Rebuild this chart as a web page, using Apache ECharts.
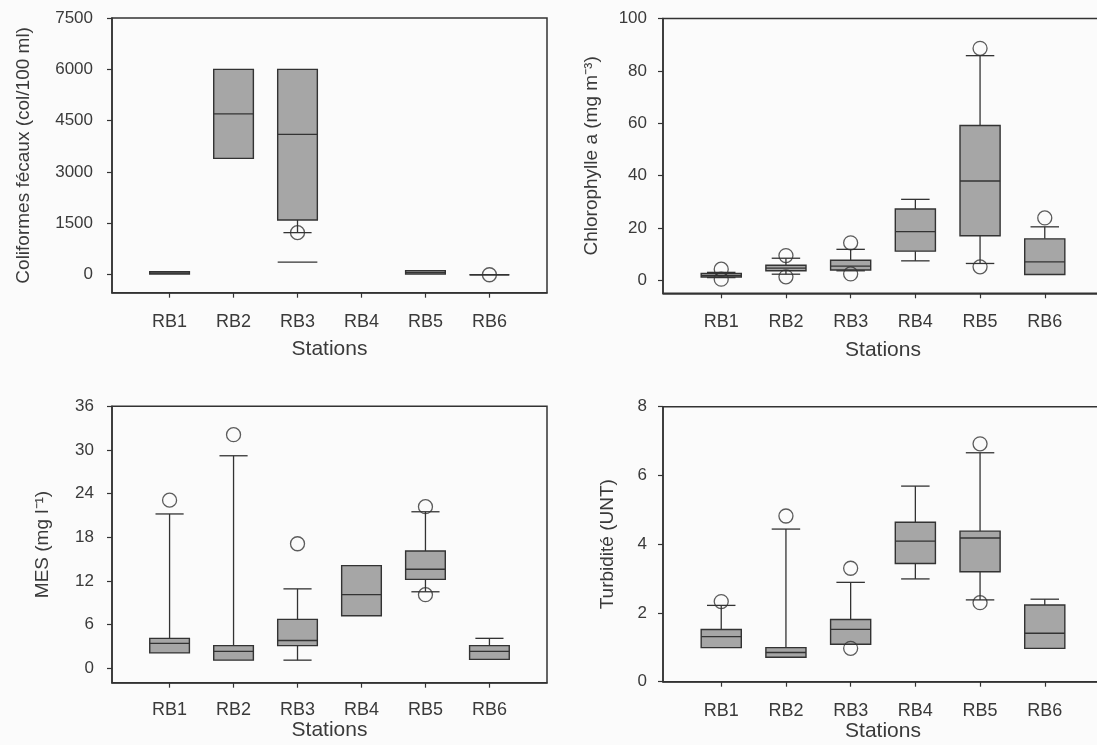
<!DOCTYPE html>
<html><head><meta charset="utf-8">
<script src="https://cdn.jsdelivr.net/npm/echarts@6/dist/echarts.min.js"></script>
<style>html,body{margin:0;padding:0;background:#fbfbfb}#c{width:1097px;height:745px}</style>
</head><body><div id="c"></div>
<script>
// ---------- data ----------
const stations = ['RB1', 'RB2', 'RB3', 'RB4', 'RB5', 'RB6'];

// Coliformes fécaux (col/100 ml)
const fcTicks = [0, 1500, 3000, 4500, 6000, 7500];
const fcLow  = [20, 3400, 1230, null, 20, 0];
const fcQ1   = [20, 3400, 1600, null, 20, 0];
const fcMed  = [50, 4700, 4100, null, 70, 0];
const fcQ3   = [90, 6000, 6000, null, 120, 0];
const fcHigh = [90, 6000, 6000, null, 120, 0];
const fcOutliers = [[3, 1230], [6, 0]];
const fcExtraLines = [[3, 370]];

// Chlorophylle a (mg m-3)
const chlTicks = [0, 20, 40, 60, 80, 100];
const chlLow  = [1.0, 2.3, 3.6, 7.4, 6.4, 2.2];
const chlQ1   = [1.2, 3.6, 3.9, 11.1, 17.0, 2.2];
const chlMed  = [1.8, 4.6, 5.4, 18.6, 37.9, 7.0];
const chlQ3   = [2.6, 5.7, 7.6, 27.2, 59.1, 15.8];
const chlHigh = [3.0, 8.4, 11.8, 30.9, 85.8, 20.4];
const chlOutliers = [[1, 4.2], [1, 0.4], [2, 9.4], [2, 1.3], [3, 14.3], [3, 2.4], [5, 88.6], [5, 5.1], [6, 23.8]];

// MES (mg l-1)
const mesTicks = [0, 6, 12, 18, 24, 30, 36];
const mesLow  = [2.1, 1.1, 1.1, 7.2, 10.5, 1.2];
const mesQ1   = [2.1, 1.1, 3.1, 7.2, 12.2, 1.2];
const mesMed  = [3.4, 2.3, 3.8, 10.1, 13.6, 2.3];
const mesQ3   = [4.1, 3.1, 6.7, 14.1, 16.1, 3.1];
const mesHigh = [21.2, 29.2, 10.9, 14.1, 21.5, 4.1];
const mesOutliers = [[1, 23.1], [2, 32.1], [3, 17.1], [5, 22.2], [5, 10.1]];

// Turbidité (UNT)
const turTicks = [0, 2, 4, 6, 8];
const turLow  = [0.99, 0.71, 1.09, 2.99, 2.38, 0.97];
const turQ1   = [0.99, 0.71, 1.09, 3.44, 3.20, 0.97];
const turMed  = [1.31, 0.85, 1.52, 4.09, 4.18, 1.41];
const turQ3   = [1.52, 0.99, 1.81, 4.64, 4.38, 2.23];
const turHigh = [2.22, 4.44, 2.89, 5.69, 6.66, 2.40];
const turOutliers = [[1, 2.33], [2, 4.82], [3, 3.30], [3, 0.97], [5, 6.92], [5, 2.30]];

// ---------- styling ----------
const FONT = "'Liberation Sans', Arial, Helvetica, sans-serif";
const TXT = '#3a3a3a';
const LINE = '#333333';
const FILL = '#a6a6a6';
const BOX_W = 0.62, CAP_W = 0.44;
const xPos = [1, 2, 3, 4, 5, 6];

function boxRows(lo, q1, md, q3, hi) {
  const rows = [];
  stations.forEach((s, i) => {
    if (q1[i] == null) return;
    rows.push([i + 1, lo[i], q1[i], md[i], q3[i], hi[i]]);
  });
  return rows;
}

function renderBox(params, api) {
  const x = api.value(0);
  const lo = api.value(1), q1 = api.value(2), md = api.value(3), q3 = api.value(4), hi = api.value(5);
  const bw = api.size([BOX_W, 0])[0];
  const cw = api.size([CAP_W, 0])[0];
  const cx = api.coord([x, md])[0];
  const y = v => api.coord([x, v])[1];
  const ws = { stroke: LINE, lineWidth: 1.3, fill: null };
  const ch = [];
  if (hi > q3) {
    ch.push({ type: 'line', shape: { x1: cx, y1: y(q3), x2: cx, y2: y(hi) }, style: ws });
    ch.push({ type: 'line', shape: { x1: cx - cw / 2, y1: y(hi), x2: cx + cw / 2, y2: y(hi) }, style: ws });
  }
  if (lo < q1) {
    ch.push({ type: 'line', shape: { x1: cx, y1: y(q1), x2: cx, y2: y(lo) }, style: ws });
    ch.push({ type: 'line', shape: { x1: cx - cw / 2, y1: y(lo), x2: cx + cw / 2, y2: y(lo) }, style: ws });
  }
  ch.push({ type: 'rect', shape: { x: cx - bw / 2, y: y(q3), width: bw, height: y(q1) - y(q3) },
            style: { fill: FILL, stroke: LINE, lineWidth: 1.4 } });
  ch.push({ type: 'line', shape: { x1: cx - bw / 2, y1: y(md), x2: cx + bw / 2, y2: y(md) },
            style: { stroke: LINE, lineWidth: 1.3 } });
  return { type: 'group', children: ch };
}

function renderFlat(params, api) {
  const x = api.value(0), v = api.value(1);
  const bw = api.size([BOX_W, 0])[0];
  const p = api.coord([x, v]);
  return { type: 'line', shape: { x1: p[0] - bw / 2, y1: p[1], x2: p[0] + bw / 2, y2: p[1] },
           style: { stroke: LINE, lineWidth: 1.3 } };
}

const panels = [
  { grid: { left: 112, top: 18, width: 435, height: 274.7 }, min: -525, max: 7500, ticks: fcTicks,
    name: 'Coliformes fécaux (col/100 ml)', nameGap: 79, yMargin: 19, xMargin: 20, xNameGap: 46,
    rows: boxRows(fcLow, fcQ1, fcMed, fcQ3, fcHigh), out: fcOutliers, extra: fcExtraLines },
  { grid: { left: 663, top: 18.5, width: 440, height: 274.8 }, min: -5, max: 100, ticks: chlTicks,
    name: 'Chlorophylle a (mg m⁻³)', nameGap: 62, yMargin: 16, xMargin: 20, xNameGap: 46,
    rows: boxRows(chlLow, chlQ1, chlMed, chlQ3, chlHigh), out: chlOutliers },
  { grid: { left: 112, top: 406.3, width: 435, height: 276.4 }, min: -2, max: 36, ticks: mesTicks,
    name: 'MES (mg l⁻¹)', nameGap: 60, yMargin: 18, xMargin: 18, xNameGap: 32,
    rows: boxRows(mesLow, mesQ1, mesMed, mesQ3, mesHigh), out: mesOutliers },
  { grid: { left: 663, top: 406.7, width: 440, height: 275 }, min: 0, max: 8, ticks: turTicks,
    name: 'Turbidité (UNT)', nameGap: 46, yMargin: 16, xMargin: 20, xNameGap: 32,
    rows: boxRows(turLow, turQ1, turMed, turQ3, turHigh), out: turOutliers }
];

const grids = [], xAxes = [], yAxes = [], series = [];
panels.forEach((p, i) => {
  grids.push(Object.assign({ show: true, borderColor: LINE, borderWidth: 1.5, backgroundColor: 'transparent',
                             containLabel: false, outerBoundsMode: 'none' }, p.grid));
  xAxes.push({
    gridIndex: i, type: 'value', min: 0.1, max: 6.9,
    axisLine: { show: true, onZero: false, lineStyle: { color: LINE, width: 1.5 } },
    axisTick: { show: true, inside: false, length: 5, customValues: xPos, lineStyle: { color: LINE, width: 1.2 } },
    axisLabel: { show: true, customValues: xPos, margin: p.xMargin, fontSize: 18, color: TXT, fontFamily: FONT,
                 formatter: v => stations[Math.round(v) - 1] || '' },
    splitLine: { show: false },
    name: 'Stations', nameLocation: 'middle', nameGap: p.xNameGap,
    nameTextStyle: { fontSize: 21, color: TXT, fontFamily: FONT }
  });
  yAxes.push({
    gridIndex: i, type: 'value', min: p.min, max: p.max,
    axisLine: { show: true, onZero: false, lineStyle: { color: LINE, width: 1.5 } },
    axisTick: { show: true, inside: false, length: 5, customValues: p.ticks, lineStyle: { color: LINE, width: 1.2 } },
    axisLabel: { show: true, customValues: p.ticks, margin: p.yMargin, fontSize: 17, color: TXT, fontFamily: FONT,
                 formatter: v => String(v) },
    splitLine: { show: false },
    name: p.name, nameLocation: 'middle', nameRotate: 90, nameGap: p.nameGap,
    nameTextStyle: { fontSize: 19, color: TXT, fontFamily: FONT }
  });
  series.push({
    type: 'custom', xAxisIndex: i, yAxisIndex: i, renderItem: renderBox,
    encode: { x: 0, y: [1, 2, 3, 4, 5] }, data: p.rows, silent: true, z: 2
  });
  if (p.extra) {
    series.push({
      type: 'custom', xAxisIndex: i, yAxisIndex: i, renderItem: renderFlat,
      encode: { x: 0, y: 1 }, data: p.extra, silent: true, z: 2
    });
  }
  series.push({
    type: 'scatter', xAxisIndex: i, yAxisIndex: i, data: p.out, symbol: 'circle', symbolSize: 14,
    itemStyle: { color: 'rgba(0,0,0,0)', borderColor: LINE, borderWidth: 1.3 }, silent: true, z: 3
  });
});

const chart = echarts.init(document.getElementById('c'), null, { renderer: 'canvas' });
chart.setOption({
  backgroundColor: '#fbfbfb',
  animation: false,
  grid: grids, xAxis: xAxes, yAxis: yAxes, series: series
});
</script></body></html>
